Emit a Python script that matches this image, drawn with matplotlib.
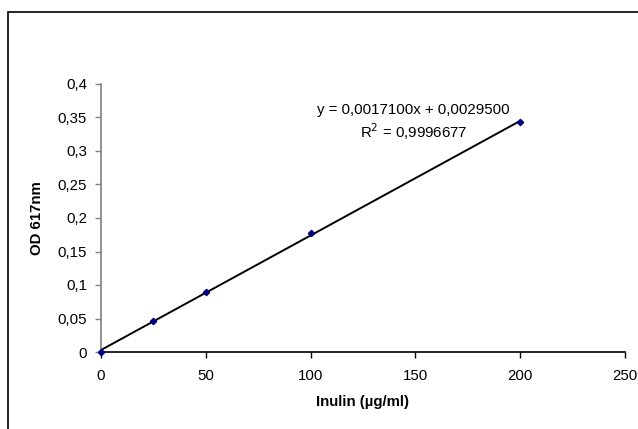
import matplotlib
matplotlib.use("Agg")
import matplotlib.pyplot as plt
import matplotlib.patches as patches
import numpy as np

plt.rcParams["font.family"] = ["Liberation Sans", "DejaVu Sans"]

# standard points
inulin = [0, 25, 50, 100, 200]
od617 = [0.0, 0.047, 0.090, 0.177, 0.344]

# trendline coefficients as printed on the chart
slope = 0.0017100
intercept = 0.0029500
eq_text = "y = 0,0017100x + 0,0029500"
r2_text = "R$^2$ = 0,9996677"

xticks = [0, 50, 100, 150, 200, 250]
yticks = [0, 0.05, 0.1, 0.15, 0.2, 0.25, 0.3, 0.35, 0.4]


def comma(v):
    s = ("%g" % v).replace(".", ",")
    return s


fig = plt.figure(figsize=(6.38, 4.29), dpi=100)
W, H = 638, 429
fs = 10.8

# outer chart border (runs off right and bottom edges)
fig.patches.append(patches.Rectangle((8 / W, 0 - 0.01), 1.0, 1 - 12 / H + 0.01,
                                     transform=fig.transFigure, fill=False,
                                     edgecolor="black", linewidth=1.2))

ax = fig.add_axes([101 / W, 1 - 352 / H, (625 - 101) / W, (352 - 84) / H])

xs = np.array([inulin[0], inulin[-1]])
ax.plot(xs, slope * xs + intercept, color="black", linewidth=1.4, zorder=2)
ax.plot(inulin, od617, linestyle="none", marker="D", markersize=3.2,
        color="#000080", zorder=3, clip_on=False)

ax.set_xlim(0, 250)
ax.set_ylim(0, 0.4)
ax.set_xticks(xticks)
ax.set_yticks(yticks)
ax.set_xticklabels([comma(v) for v in xticks])
ax.set_yticklabels([comma(v) for v in yticks])
ax.tick_params(labelsize=fs, length=4, width=1, direction="out")
ax.tick_params(axis="x", pad=8)
ax.tick_params(axis="y", pad=6, colors="#808080", labelcolor="black")

for s in ["top", "right"]:
    ax.spines[s].set_visible(False)
ax.spines["left"].set_color("#808080")
ax.spines["left"].set_linewidth(1.2)
ax.spines["bottom"].set_color("black")
ax.spines["bottom"].set_linewidth(1.2)

ax.set_xlabel("Inulin (µg/ml)", fontsize=fs, fontweight="bold", labelpad=9)
ax.set_ylabel("OD 617nm", fontsize=fs, fontweight="bold", labelpad=10)

ax.text(149, 0.361, eq_text, fontsize=fs, ha="center", va="center")
ax.text(149, 0.329, r2_text, fontsize=fs, ha="center", va="center")

fig.savefig("out.png", dpi=100)
